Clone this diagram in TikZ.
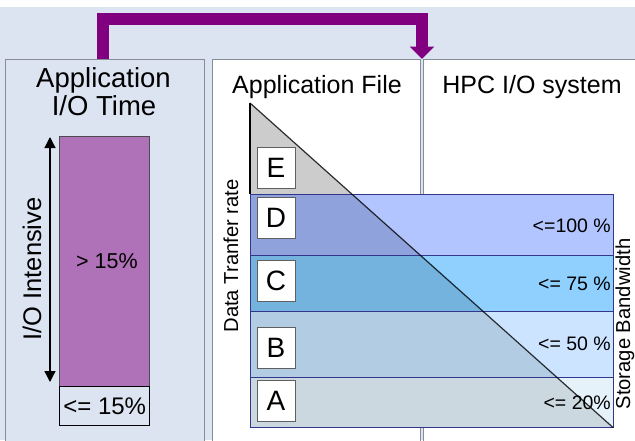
\documentclass[tikz,border=0pt]{standalone}
\usepackage{fontspec}
\setmainfont{Liberation Sans}
\usetikzlibrary{arrows.meta}

\definecolor{bgblue}{RGB}{220,227,241}
\definecolor{panelline}{RGB}{135,140,150}
\definecolor{arrowpurple}{RGB}{128,0,128}
\definecolor{barpurple}{RGB}{175,113,183}
\definecolor{trigray}{RGB}{204,204,204}
\definecolor{bandline}{RGB}{50,55,140}
\definecolor{dLight}{RGB}{179,197,255}
\definecolor{dDark}{RGB}{143,162,219}
\definecolor{cLight}{RGB}{143,208,255}
\definecolor{cDark}{RGB}{116,179,222}
\definecolor{bLight}{RGB}{204,228,255}
\definecolor{bDark}{RGB}{178,204,228}
\definecolor{aLight}{RGB}{230,242,250}
\definecolor{aDark}{RGB}{204,216,224}

\tikzset{
  panel/.style={draw=panelline, line width=1pt},
  title/.style={font=\fontsize{25}{29}\selectfont, inner sep=0pt, anchor=base},
  bigtitle/.style={font=\fontsize{27.5}{30}\selectfont, inner sep=0pt, anchor=base},
  small/.style={font=\fontsize{20.2}{23}\selectfont, inner sep=0pt},
  pct/.style={font=\fontsize{19.5}{22}\selectfont, inner sep=0pt, anchor=base east},
  letterbox/.style={draw=gray!75!black, fill=white, line width=0.9pt,
    minimum width=38pt, minimum height=41pt, inner sep=0pt,
    font=\fontsize{28}{28}\selectfont},
  bandrule/.style={draw=bandline, line width=1pt},
  flowarrow/.style={draw=arrowpurple, line width=12.5pt,
    -{Triangle[width=24pt,length=12.5pt]}},
  spanarrow/.style={line width=1.3pt,
    {Triangle[width=11pt,length=11pt]}-{Triangle[width=11pt,length=11pt]}}
}

\begin{document}
\begin{tikzpicture}[x=1pt,y=-1pt]
\useasboundingbox (0,0) rectangle (635,440);
\fill[white] (0,0) rectangle (635,440);
\fill[bgblue] (0,7) rectangle (635,440);

% three panels
\draw[panel, fill=bgblue] (5,59) rectangle (204,450);
\draw[panel, fill=white] (212,59) rectangle (420,450);
\draw[panel, fill=white] (423,59) rectangle (640,450);

% flow arrow from the I/O time panel to the HPC I/O system
\coordinate (src) at (103,59);
\coordinate (dst) at (422,59);
\draw[flowarrow] (src) -- ++(0,-40.2) -| (dst);

% ---- Application I/O Time panel
\node[bigtitle] (ttlA) at (103.5,87) {Application};
\node[bigtitle] (ttlB) at (104,115.5) {I/O Time};

\node[draw=black!70, fill=barpurple, line width=0.8pt, minimum width=90pt,
      minimum height=250pt, inner sep=0pt, anchor=north west,
      font=\fontsize{21.5}{24}\selectfont] (high) at (59,136) {\hspace*{5pt}> 15\%};
\node[draw=black, line width=1.4pt, minimum width=90pt, minimum height=39pt,
      inner sep=0pt, anchor=north west,
      font=\fontsize{24}{26}\selectfont] (low) at (59,386) {<= 15\%};

\coordinate (itop) at (50,137);
\coordinate (ibot) at (50,382);
\draw[spanarrow] (itop) -- (ibot);
\node[font=\fontsize{25.5}{28}\selectfont, inner sep=0pt, rotate=90] (intens) at (32,269) {I/O Intensive};

% ---- Application File / HPC I/O system panels
\node[title] (ttlFile) at (317,93) {Application File};
\node[title] (ttlHPC) at (532,93) {HPC I/O system};

\coordinate (apex) at (250,103);
\coordinate (base) at (250,427.5);
\coordinate (tip) at (613,427.5);

% file size triangle
\fill[trigray] (apex) -- (base) -- (tip) -- cycle;

% storage bandwidth bands
\fill[dLight] (250,194.3) rectangle (613,255.3);
\fill[cLight] (250,255.3) rectangle (613,311.5);
\fill[bLight] (250,311.5) rectangle (613,377.2);
\fill[aLight] (250,377.2) rectangle (613,427.5);
\begin{scope}
  \clip (apex) -- (base) -- (tip) -- cycle;
  \fill[dDark] (250,194.3) rectangle (613,255.3);
  \fill[cDark] (250,255.3) rectangle (613,311.5);
  \fill[bDark] (250,311.5) rectangle (613,377.2);
  \fill[aDark] (250,377.2) rectangle (613,427.5);
\end{scope}
\draw[black, line width=1.3pt] (apex) -- (250,194.3);
\draw[bandrule] (250,194.3) rectangle (tip);
\draw[bandrule] (250,255.3) -- (613,255.3);
\draw[bandrule] (250,311.5) -- (613,311.5);
\draw[bandrule] (250,377.2) -- (613,377.2);
\draw[black, opacity=0.8, line width=1.2pt] (apex) -- (tip);

% class boxes
\node[letterbox] (boxE) at (276,167.8) {E};
\node[letterbox] (boxD) at (276,218.2) {D};
\node[letterbox] (boxC) at (276,281.2) {C};
\node[letterbox] (boxB) at (276,347.8) {B};
\node[letterbox] (boxA) at (276,401.3) {A};

% bandwidth limits
\node[pct] (pD) at (611,232) {<=100 \%};
\node[pct] (pC) at (611,290) {<= 75 \%};
\node[pct] (pB) at (611,350) {<= 50 \%};
\node[pct] (pA) at (611,409.5) {<= 20\%};

\node[small, rotate=90] (rate) at (231,256) {Data Tranfer rate};
\node[small, rotate=90] (bw) at (625,324) {Storage Bandwidth};
\end{tikzpicture}
\end{document}
